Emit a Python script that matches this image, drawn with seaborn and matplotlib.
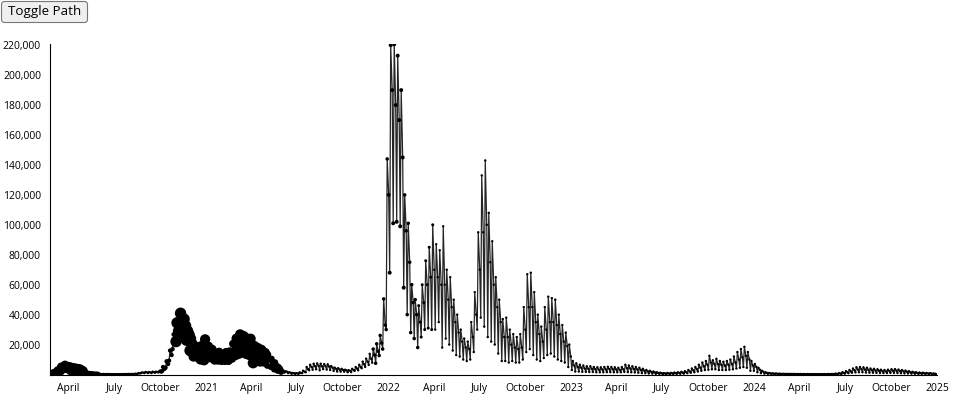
# IMPORT PACKAGES -----------------------------------------------------------------
import pandas as pd
import seaborn as sns
import matplotlib.pyplot as plt
from matplotlib.patches import FancyBboxPatch
from matplotlib.transforms import IdentityTransform

# GET THE DATA --------------------------------------------------------------------
# daily new cases, read off the chart as three values per week:
# Monday (low), Wednesday (high) and Saturday (middle);
# each list starts on the Monday given in week_start
week_start = {2020: "2020-02-24", 2021: "2021-01-04", 2022: "2022-01-03",
              2023: "2023-01-02", 2024: "2024-01-01"}

lo_2020 = [100,                                   # Feb
           350, 1500, 2500, 4000, 4000,           # Mar
           3000, 2600, 2300, 1700,                # Apr
           1100, 750, 450, 300,                   # May
           200, 200, 200, 150, 120,               # Jun
           140, 130, 180, 180,                    # Jul
           200, 250, 400, 950, 1000,              # Aug
           1000, 1000, 1200, 1400,                # Sep
           2200, 4600, 9300, 17000,               # Oct
           22000, 25000, 27000, 22900, 16000,     # Nov
           12000, 12000, 10000, 9500]             # Dec
hi_2020 = [250,
           780, 2500, 5000, 6200, 4800,
           4200, 3800, 3400, 2100,
           1400, 1000, 700, 600,
           400, 350, 330, 260, 230,
           230, 250, 300, 380,
           400, 550, 950, 1400, 1700,
           1600, 1900, 1900, 2500,
           5000, 8800, 16000, 26800,
           34500, 40900, 37000, 29000, 24000,
           18700, 18000, 19000, 23500]
mid_2020 = [180,
            580, 2000, 3900, 5200, 4400,
            3700, 3300, 2900, 1900,
            1250, 900, 600, 450,
            300, 280, 270, 210, 180,
            190, 200, 250, 290,
            310, 420, 700, 1200, 1400,
            1350, 1500, 1600, 2000,
            3800, 7000, 13000, 22500,
            29000, 34000, 32500, 26500, 20500,
            16000, 15500, 15000, 17000]

lo_2021 = [11000, 11000, 9500, 9500,               # Jan
           9000, 9000, 9000, 10500,                # Feb
           13000, 13900, 15000, 13800, 12900,      # Mar
           7700, 9800, 8900, 8900,                 # Apr
           5900, 5100, 3400, 2500, 1800,           # May
           1300, 900, 500, 400,                    # Jun
           500, 900, 1500, 2800,                   # Jul
           3200, 3500, 2800, 3600, 3300,           # Aug
           3000, 2400, 2000, 1900,                 # Sep
           1900, 1500, 1600, 2500,                 # Oct
           2800, 4200, 5100, 6400, 7900,           # Nov
           7500, 12700, 17000, 30000]              # Dec
hi_2021 = [19000, 17000, 14000, 15000,
           13600, 15100, 15500, 20500,
           24000, 26800, 25700, 24000, 23900,
           18900, 17500, 16300, 14300,
           13400, 10500, 8100, 5000, 3300,
           2200, 1500, 1000, 900,
           1400, 2500, 5000, 6500,
           7200, 7400, 7200, 6900, 6800,
           5600, 4600, 4200, 3800,
           3200, 2900, 3800, 5000,
           6500, 8600, 10600, 13800, 17000,
           20500, 26100, 50500, 144000]
mid_2021 = [15000, 15000, 12000, 12000,
            11500, 12000, 12500, 16000,
            19500, 21500, 21000, 20000, 19000,
            14000, 14500, 13000, 12000,
            10000, 8000, 6000, 3800, 2600,
            1800, 1200, 800, 700,
            1000, 1800, 3500, 5000,
            5500, 5800, 5400, 5500, 5300,
            4500, 3700, 3300, 3000,
            2700, 2400, 2900, 3900,
            5000, 6800, 8500, 10500, 13000,
            15500, 21000, 33000, 120000]

lo_2022 = [68000, 101000, 102000, 99000, 58000,    # Jan
           40000, 28000, 24000, 18000,             # Feb
           25000, 30000, 31000, 30000,             # Mar
           30000, 35000, 18000, 24000,             # Apr
           20000, 16000, 13000, 12000, 10000,      # May
           9000, 10000, 15000, 30000,              # Jun
           38000, 32000, 25000, 22000,             # Jul
           20000, 14000, 9000, 9000, 8000,         # Aug
           9000, 8000, 8000, 10000,                # Sep
           15000, 17000, 13000, 10000, 9000,       # Oct
           11000, 13000, 14000, 12000,             # Nov
           10000, 9000, 8000, 5000]                # Dec
hi_2022 = [220000, 220500, 213000, 190000, 120000,
           101000, 60000, 50000, 46000,
           60000, 76000, 85000, 100000,
           87000, 83000, 99000, 70000,
           65000, 50000, 40000, 30000, 24000,
           22000, 35000, 55000, 95000,
           133000, 143000, 108000, 89000,
           65000, 50000, 37000, 38000, 30000,
           27000, 25000, 27000, 45000,
           67000, 68000, 55000, 40000, 32000,
           45000, 52000, 51000, 50000,
           40000, 33000, 28000, 20000]
mid_2022 = [190000, 180000, 170000, 145000, 96000,
            75000, 48000, 40000, 35000,
            48000, 60000, 65000, 70000,
            65000, 60000, 60000, 50000,
            45000, 35000, 28000, 22000, 18000,
            17000, 25000, 40000, 70000,
            95000, 100000, 75000, 60000,
            45000, 35000, 25000, 25000, 20000,
            18000, 17000, 18000, 30000,
            45000, 45000, 35000, 27000, 22000,
            30000, 35000, 35000, 33000,
            27000, 22000, 19000, 12000]

lo_2023 = [3000, 2000, 2000, 1800, 1800,           # Jan
           1700, 1700, 1500, 1500,                 # Feb
           1500, 1600, 1600, 1500,                 # Mar
           1500, 1500, 1800, 1600,                 # Apr
           1500, 1400, 1200, 1000, 900,            # May
           700, 600, 500, 400,                     # Jun
           300, 300, 350, 400, 500,                # Jul
           500, 600, 900, 1200,                    # Aug
           1500, 2000, 2500, 3000,                 # Sep
           3200, 3500, 3500, 3000, 3000,           # Oct
           3000, 3200, 3500, 4000,                 # Nov
           4500, 5000, 4500, 2500]                 # Dec
hi_2023 = [9000, 7500, 6500, 6000, 5500,
           5500, 5000, 4800, 4800,
           5000, 5200, 5000, 4800,
           4500, 5000, 6500, 6000,
           5500, 5000, 4500, 3800, 3000,
           2500, 2000, 1500, 1200,
           900, 1000, 1100, 1300, 1500,
           1800, 2200, 3000, 4000,
           5000, 6500, 8000, 9000,
           12500, 9500, 10500, 9000, 8500,
           9000, 10000, 12000, 15000,
           17000, 18500, 15000, 9000]
mid_2023 = [6000, 5000, 4500, 4000, 3800,
            3800, 3500, 3300, 3300,
            3400, 3600, 3500, 3300,
            3100, 3400, 4300, 4000,
            3700, 3300, 3000, 2500, 2000,
            1700, 1400, 1000, 850,
            650, 700, 750, 900, 1000,
            1200, 1500, 2000, 2700,
            3500, 4500, 5500, 6500,
            8000, 7000, 7000, 6500, 6000,
            6500, 7000, 8000, 10000,
            11500, 12500, 10000, 6000]

lo_2024 = [2500, 1500, 900, 600, 400,              # Jan
           300, 250, 200, 200,                     # Feb
           150, 150, 150, 120,                     # Mar
           120, 100, 100, 100, 100,                # Apr
           80, 80, 80, 80,                         # May
           100, 150, 250, 400,                     # Jun
           600, 900, 1200, 1400, 1500,             # Jul
           1500, 1300, 1200, 1200,                 # Aug
           1100, 1000, 1000, 1000, 1100,           # Sep
           1100, 1000, 900, 800,                   # Oct
           700, 600, 500, 450,                     # Nov
           400, 350, 300, 250, 250]                # Dec
hi_2024 = [7000, 4500, 2500, 1500, 1000,
           800, 700, 600, 500,
           450, 400, 400, 350,
           350, 300, 300, 280, 250,
           250, 250, 250, 300,
           400, 600, 900, 1500,
           2200, 3000, 4000, 4800, 5000,
           4800, 4500, 4000, 3800,
           3500, 3200, 3000, 3200, 3500,
           3600, 3300, 3000, 2600,
           2200, 1800, 1500, 1300,
           1200, 1000, 900, 700, 600]
mid_2024 = [5000, 3200, 1800, 1100, 750,
            600, 500, 420, 380,
            320, 300, 300, 250,
            250, 220, 220, 200, 180,
            180, 180, 180, 200,
            280, 400, 600, 1000,
            1500, 2000, 2800, 3300, 3500,
            3300, 3000, 2800, 2600,
            2500, 2200, 2100, 2200, 2500,
            2500, 2300, 2100, 1800,
            1500, 1300, 1000, 900,
            850, 700, 600, 500, 450]

# patients in intensive care, monthly average (Feb 2020 .. Dec 2024) -> dot size
icu_monthly = [50, 2600, 3100, 1600, 250, 70, 60, 200, 1600, 3300, 2900,
               2500, 2300, 2900, 3100, 1900, 1400, 200, 450, 550, 380, 500, 1500,
               1550, 1500, 1450, 400, 300, 200, 350, 320, 200, 250, 300, 300,
               250, 180, 150, 130, 100, 60, 50, 80, 120, 150, 180, 220,
               160, 90, 70, 50, 40, 40, 60, 80, 70, 60, 50, 40]

# build one long dataframe
rows = []
series = {2020: (lo_2020, hi_2020, mid_2020), 2021: (lo_2021, hi_2021, mid_2021),
          2022: (lo_2022, hi_2022, mid_2022), 2023: (lo_2023, hi_2023, mid_2023),
          2024: (lo_2024, hi_2024, mid_2024)}
for year, (lo, hi, mid) in series.items():
    mondays = pd.date_range(week_start[year], periods=len(lo), freq="7D")
    for d, l, h, m in zip(mondays, lo, hi, mid):
        rows.append((d, l))
        rows.append((d + pd.Timedelta(days=2), h))
        rows.append((d + pd.Timedelta(days=5), m))
df = pd.DataFrame(rows, columns=["date", "cases"])
df = df[df["date"] <= "2024-12-31"]

months = pd.period_range("2020-02", "2024-12", freq="M")
icu = dict(zip(months, icu_monthly))
df["icu"] = df["date"].dt.to_period("M").map(icu)

# PLOT ----------------------------------------------------------------------------
sns.set_style("white")
plt.rcParams["font.family"] = ["Open Sans", "DejaVu Sans"]

fig = plt.figure(figsize=(9.6, 4), dpi=100)
ax = fig.add_axes([50 / 960, 25.5 / 400, 887 / 960, 330.1 / 400])

sns.lineplot(data=df, x="date", y="cases", color="black", linewidth=0.9,
             alpha=0.85, estimator=None, ax=ax, zorder=1)
sns.scatterplot(data=df, x="date", y="cases", size="icu", sizes=(3, 92),
                size_norm=(1400, 4000), color="black", linewidth=0,
                legend=False, ax=ax, zorder=2)

start = pd.Timestamp("2020-02-24")
ax.set_xlim(start, pd.Timestamp("2025-01-01"))
ax.set_ylim(0, 220532)

tick_dates = [start] + list(pd.date_range("2020-04-01", "2025-01-01", freq="QS"))
tick_labels = [""] + [str(d.year) if d.month == 1 else d.strftime("%B") for d in tick_dates[1:]]
ax.set_xticks(tick_dates)
ax.set_xticklabels(tick_labels)

yticks = list(range(0, 220001, 20000))
ax.set_yticks(yticks)
ax.set_yticklabels(["" if v == 0 else f"{v:,}" for v in yticks])

ax.set_xlabel("")
ax.set_ylabel("")
sns.despine(ax=ax)
for side in ["left", "bottom"]:
    ax.spines[side].set_color("black")
    ax.spines[side].set_linewidth(0.8)
ax.tick_params(axis="both", direction="out", length=4.3, width=0.8, color="black",
               labelsize=7.5, labelcolor="black")
ax.tick_params(axis="y", pad=2.2)
ax.tick_params(axis="x", pad=1.8)
ax.set_facecolor("white")

# the "Toggle Path" button in the top left corner
button = FancyBboxPatch((1.5, 377.5), 86, 21, boxstyle="round,pad=0,rounding_size=3",
                        transform=IdentityTransform(), facecolor="#efefef",
                        edgecolor="#767676", linewidth=0.8)
fig.patches.append(button)
fig.text(44.5 / 960, 388 / 400, "Toggle Path", ha="center", va="center",
         fontsize=9.6, color="black")

fig.savefig("out.png", dpi=100)
